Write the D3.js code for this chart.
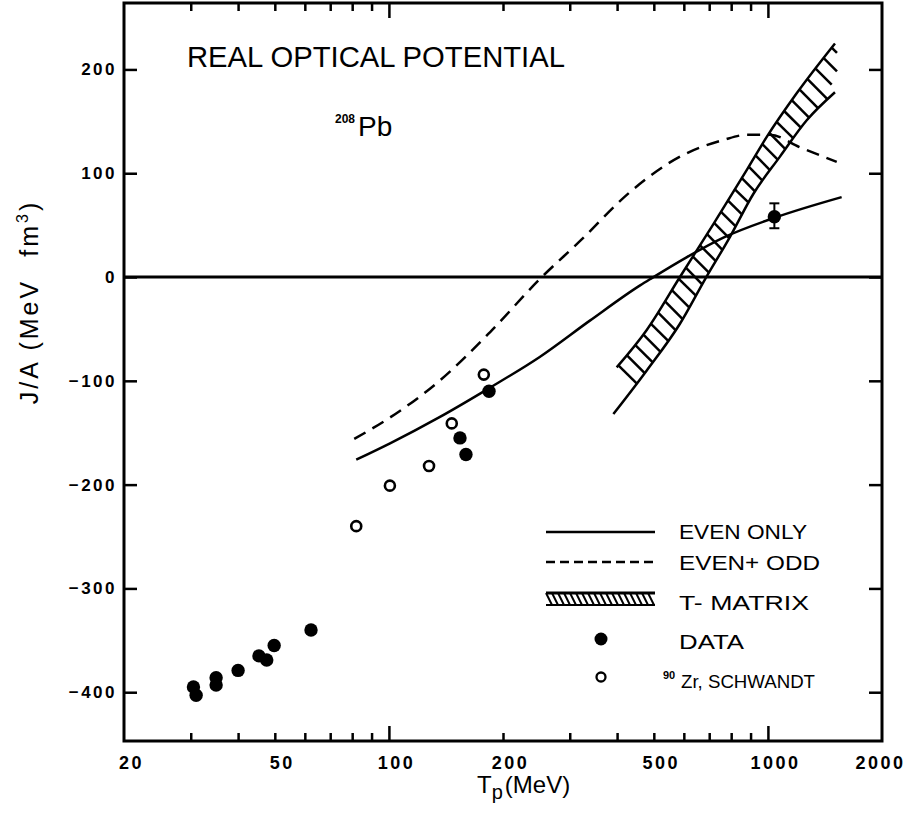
<!DOCTYPE html>
<html>
<head>
<meta charset="utf-8">
<script src="https://cdn.jsdelivr.net/npm/d3@7"></script>
<style>
  body { margin: 0; background: #fff; }
  text { font-family: "Liberation Sans", Arial, sans-serif; fill: #000; }
  .tick text { font-weight: bold; letter-spacing: 2.5px; }
  .domain { display: none; }
</style>
</head>
<body>
<svg id="chart" width="913" height="816"></svg>
<script>
// ---- data ----
// EVEN ONLY (solid)
const evenOnlyT = [82, 101, 136, 184, 250, 339, 460, 494, 610, 763, 1039, 1565];
const evenOnlyJ = [-176, -160, -135, -107, -77, -42, -8, -1, 19, 38, 57, 77];
// EVEN + ODD (dashed)
const evenOddT = [81, 101, 136, 185, 250, 320, 433, 586, 763, 879, 1013, 1215, 1519];
const evenOddJ = [-156, -135, -100, -53, -2, 35, 82, 116, 132, 137, 137, 125, 111];
// T-MATRIX band, upper and lower edge
const tMatUpperT = [399, 479, 586, 718, 879, 993, 1191, 1503];
const tMatUpperJ = [-87, -51, 0, 51, 103, 135, 177, 225];
const tMatLowerT = [391, 479, 586, 683, 795, 915, 1076, 1266, 1503];
const tMatLowerJ = [-132, -90, -45, -2, 39, 80, 116, 151, 178];
// DATA (filled)
const dataT = [30.5, 31, 35, 35, 40, 45.4, 47.6, 49.8, 62.3, 154, 159.7, 183.7, 1040];
const dataJ = [-395, -403, -386, -393, -379, -365, -369, -355, -340, -155, -171, -110, 58];
const dataErrLo = [null, null, null, null, null, null, null, null, null, null, null, null, 47];
const dataErrHi = [null, null, null, null, null, null, null, null, null, null, null, null, 71];
// 90Zr, Schwandt (open)
const zrT = [82, 100.6, 127.6, 146.5, 178];
const zrJ = [-240, -201, -182, -141, -94];
// axes
const yTicks = [-400, -300, -200, -100, 0, 100, 200];
const xLabelTicks = [20, 50, 100, 200, 500, 1000, 2000];
const xMinorTicks = [30, 40, 50, 60, 70, 80, 90, 200, 300, 400, 500, 600, 700, 800, 900];
const xMajorTicks = [100, 1000];

const svg = d3.select('#chart');
const plot = {left: 124, right: 882, top: 3, bottom: 741};

const x = d3.scaleLog().domain([20, 2000]).range([plot.left, plot.right]);
const y = d3.scaleLinear().domain([-447, 264]).range([plot.bottom, plot.top]);

const zip = (a, b) => a.map((v, i) => [v, b[i]]);
const line = d3.line().x(d => x(d[0])).y(d => y(d[1])).curve(d3.curveMonotoneX);

// ---- axes (inward ticks) ----
svg.append('g')
    .attr('transform', `translate(${plot.left},0)`)
    .call(d3.axisLeft(y).tickValues(yTicks).tickSize(-13).tickPadding(7).tickFormat(d3.format('d')))
    .call(g => g.selectAll('.tick text').attr('font-size', 17));
svg.append('g')
    .attr('transform', `translate(${plot.right},0)`)
    .call(d3.axisRight(y).tickValues(yTicks).tickSize(-13).tickFormat(''));

[[plot.bottom, d3.axisBottom], [plot.top, d3.axisTop]].forEach(([pos, axisFn]) => {
    svg.append('g').attr('transform', `translate(0,${pos})`)
        .call(axisFn(x).tickValues(xMinorTicks).tickSize(-8).tickFormat(''));
    svg.append('g').attr('transform', `translate(0,${pos})`)
        .call(axisFn(x).tickValues(xMajorTicks).tickSize(-15).tickFormat(''));
});
svg.append('g')
    .attr('transform', `translate(0,${plot.bottom})`)
    .call(d3.axisBottom(x).tickValues(xLabelTicks).tickSize(0).tickPadding(15).tickFormat(d3.format('d')))
    .call(g => g.selectAll('.tick text').attr('font-size', 18)
        .attr('dx', d => d === 2000 ? -2 : 7));
svg.selectAll('.tick line').attr('stroke', '#000').attr('stroke-width', 2.5);

// frame
svg.append('rect')
    .attr('x', plot.left).attr('y', plot.top)
    .attr('width', plot.right - plot.left).attr('height', plot.bottom - plot.top)
    .attr('fill', 'none').attr('stroke', '#000').attr('stroke-width', 3);

// zero line
svg.append('line')
    .attr('x1', plot.left).attr('x2', plot.right)
    .attr('y1', y(0)).attr('y2', y(0))
    .attr('stroke', '#000').attr('stroke-width', 3);

// ---- curves ----
svg.append('path').datum(zip(evenOnlyT, evenOnlyJ))
    .attr('d', line).attr('fill', 'none').attr('stroke', '#000').attr('stroke-width', 2.5);
svg.append('path').datum(zip(evenOddT, evenOddJ))
    .attr('d', line).attr('fill', 'none').attr('stroke', '#000').attr('stroke-width', 2.5)
    .attr('stroke-dasharray', '13,8');

// T-matrix band: two edges plus "\" hatching between them
const upperPath = svg.append('path').datum(zip(tMatUpperT, tMatUpperJ))
    .attr('d', line).attr('fill', 'none').attr('stroke', '#000').attr('stroke-width', 2.5);
const lowerPath = svg.append('path').datum(zip(tMatLowerT, tMatLowerJ))
    .attr('d', line).attr('fill', 'none').attr('stroke', '#000').attr('stroke-width', 2.5);

const upNode = upperPath.node(), loNode = lowerPath.node();
const upLen = upNode.getTotalLength(), loLen = loNode.getTotalLength();
const loPts = d3.range(0, loLen, 0.5).map(s => loNode.getPointAtLength(s));
const bandXMax = x(tMatLowerT[tMatLowerT.length - 1]);
const hatchCount = 30;
const hatchStarts = d3.range(hatchCount).map(i => upNode.getPointAtLength((i + 0.2) / (hatchCount - 0.4) * upLen));
const hatchEnds = hatchStarts.map(p => {
    let best = null, bestErr = Infinity;
    loPts.forEach(q => {
        const dx = q.x - p.x, dy = q.y - p.y;
        if (dx <= 0) return;
        const err = Math.abs(dx - dy);
        if (err < bestErr) { bestErr = err; best = q; }
    });
    return bestErr < 2 ? best : null;
});
// where the 45° line runs past the end of the lower edge, stop it at the band's right end
const okIdx = d3.range(hatchCount).filter(i => hatchEnds[i]);
const meanD = d3.mean(okIdx, i => hatchEnds[i].x - hatchStarts[i].x);
const hatches = hatchStarts.map((p, i) => {
    if (hatchEnds[i]) return [p, hatchEnds[i]];
    const d = Math.min(meanD, bandXMax + 2 - p.x);
    return [p, {x: p.x + d, y: p.y + d}];
}).filter(h => h[1].x - h[0].x > 4);
svg.append('g').selectAll('line').data(hatches).join('line')
    .attr('x1', d => d[0].x).attr('y1', d => d[0].y)
    .attr('x2', d => d[1].x).attr('y2', d => d[1].y)
    .attr('stroke', '#000').attr('stroke-width', 2.5);

// ---- points ----
const dataPts = dataT.map((t, i) => ({t, j: dataJ[i], lo: dataErrLo[i], hi: dataErrHi[i]}));
const errG = svg.append('g').attr('stroke', '#000').attr('stroke-width', 2);
dataPts.filter(d => d.lo !== null).forEach(d => {
    errG.append('line').attr('x1', x(d.t)).attr('x2', x(d.t)).attr('y1', y(d.lo)).attr('y2', y(d.hi));
    [d.lo, d.hi].forEach(v => errG.append('line')
        .attr('x1', x(d.t) - 5).attr('x2', x(d.t) + 5).attr('y1', y(v)).attr('y2', y(v)));
});
svg.append('g').selectAll('circle').data(dataPts).join('circle')
    .attr('cx', d => x(d.t)).attr('cy', d => y(d.j)).attr('r', 6.7).attr('fill', '#000');
svg.append('g').selectAll('circle').data(zip(zrT, zrJ)).join('circle')
    .attr('cx', d => x(d[0])).attr('cy', d => y(d[1])).attr('r', 5)
    .attr('fill', '#fff').attr('stroke', '#000').attr('stroke-width', 2.6);

// ---- titles ----
svg.append('text').attr('x', 187).attr('y', 67).attr('font-size', 29)
    .attr('textLength', 378).attr('lengthAdjust', 'spacingAndGlyphs')
    .text('REAL OPTICAL POTENTIAL');
const pb = svg.append('text').attr('x', 335).attr('y', 136);
pb.append('tspan').attr('font-size', 12).attr('font-weight', 'bold').attr('dy', -13).text('208');
pb.append('tspan').attr('font-size', 28).attr('dx', 3).attr('dy', 13).text('Pb');

// y label
const yl = svg.append('text')
    .attr('transform', 'translate(38,302) rotate(-90)')
    .attr('text-anchor', 'middle').attr('font-size', 25).attr('letter-spacing', 3);
yl.append('tspan').text('J/A (MeV');
yl.append('tspan').attr('dx', 22).text('fm');
yl.append('tspan').attr('font-size', 16).attr('dy', -10).text('3');
yl.append('tspan').attr('dy', 10).text(')');

// x label
const xl = svg.append('text').attr('x', 477).attr('y', 793).attr('font-size', 24);
xl.append('tspan').text('T');
xl.append('tspan').attr('font-size', 20).attr('dy', 6).text('p');
xl.append('tspan').attr('dy', -6).attr('dx', 2).text('(MeV)');

// ---- legend ----
const lg = svg.append('g');
const lgX0 = 546, lgX1 = 655, lgTx = 679;
lg.append('line').attr('x1', lgX0).attr('x2', lgX1).attr('y1', 532).attr('y2', 532)
    .attr('stroke', '#000').attr('stroke-width', 2.5);
lg.append('line').attr('x1', lgX0).attr('x2', lgX1).attr('y1', 562).attr('y2', 562)
    .attr('stroke', '#000').attr('stroke-width', 2.5).attr('stroke-dasharray', '9,5');
// hatched symbol
lg.append('line').attr('x1', lgX0).attr('x2', lgX1).attr('y1', 593).attr('y2', 593)
    .attr('stroke', '#000').attr('stroke-width', 3);
lg.append('line').attr('x1', lgX0).attr('x2', lgX1).attr('y1', 605).attr('y2', 605)
    .attr('stroke', '#000').attr('stroke-width', 2);
lg.append('g').selectAll('line').data(d3.range(lgX0, lgX1 - 6, 6)).join('line')
    .attr('x1', d => d).attr('x2', d => d + 6).attr('y1', 593).attr('y2', 605)
    .attr('stroke', '#000').attr('stroke-width', 2);
lg.append('circle').attr('cx', 601).attr('cy', 639).attr('r', 6.5).attr('fill', '#000');
lg.append('circle').attr('cx', 601).attr('cy', 677).attr('r', 4.5)
    .attr('fill', '#fff').attr('stroke', '#000').attr('stroke-width', 2.3);

const legendTexts = [
    {t: 'EVEN ONLY', y: 539, w: 128},
    {t: 'EVEN+ ODD', y: 570, w: 141},
    {t: 'T- MATRIX', y: 610, w: 130},
    {t: 'DATA', y: 649, w: 65}
];
lg.selectAll('text.lt').data(legendTexts).join('text').attr('class', 'lt')
    .attr('x', lgTx).attr('y', d => d.y).attr('font-size', 20)
    .attr('textLength', d => d.w).attr('lengthAdjust', 'spacingAndGlyphs')
    .text(d => d.t);
lg.append('text').attr('x', 663).attr('y', 679).attr('font-size', 11).attr('font-weight', 'bold').text('90');
lg.append('text').attr('x', 681).attr('y', 688).attr('font-size', 18)
    .attr('textLength', 134).attr('lengthAdjust', 'spacingAndGlyphs').text('Zr, SCHWANDT');
</script>
</body>
</html>
